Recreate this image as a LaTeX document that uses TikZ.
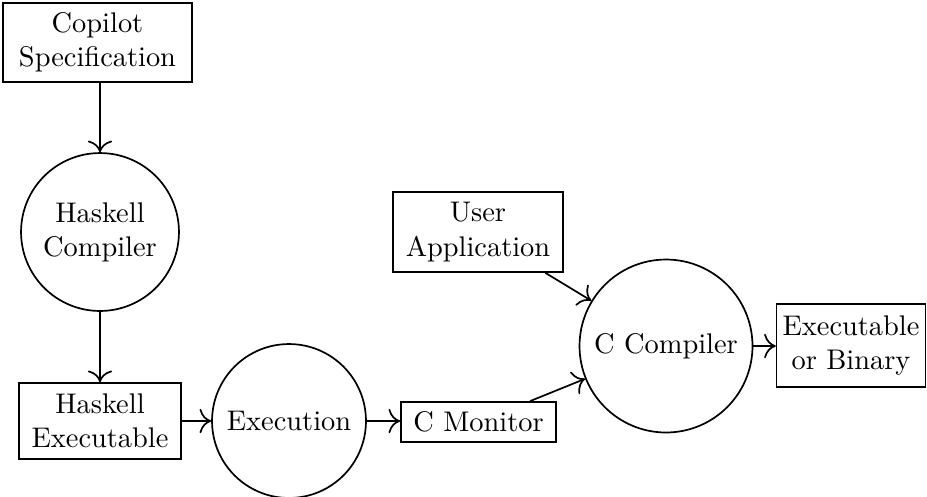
\documentclass[tikz,border=0pt]{standalone}
\usetikzlibrary{arrows.meta}
\tikzset{
  stage/.style={draw, line width=0.6pt, rectangle, align=center, inner sep=0pt},
  proc/.style={draw, line width=0.6pt, circle, align=center, inner sep=0pt},
  flow/.style={-{To[scale=1.4]}, line width=0.6pt}
}
\begin{document}
\begin{tikzpicture}[x=0.3521pt, y=-0.3521pt]
  \useasboundingbox (0,0) rectangle (927,496);

  \node[stage, minimum width=66.5pt, minimum height=27.8pt] (cop) at (97.5,42.5) {Copilot\\Specification};
  \node[proc, minimum size=55.6pt] (hc) at (100,232) {Haskell\\Compiler};
  \node[stage, minimum width=57pt, minimum height=26.8pt] (he) at (100,421) {Haskell\\Executable};
  \node[proc, minimum size=54.2pt] (ex) at (289,421) {Execution};
  \node[stage, minimum width=54.6pt, minimum height=14.1pt] (cm) at (478.5,422) {C Monitor};
  \node[stage, minimum width=59.9pt, minimum height=28.2pt] (ua) at (478,232) {User\\Application};
  \node[proc, minimum size=60.9pt] (cc) at (666,346) {C Compiler};
  \node[stage, minimum width=52.4pt, minimum height=29.2pt] (eb) at (851,345.5) {Executable\\or Binary};

  \draw[flow] (cop.south -| hc.north) -- (hc.north);
  \draw[flow] (hc.south) -- (hc.south |- he.north);
  \draw[flow] (he.east |- ex.west) -- (ex.west);
  \draw[flow] (ex.east) -- (cm.west |- ex.east);
  \draw[flow] (cm) -- (cc);
  \draw[flow] (ua) -- (cc);
  \draw[flow] (cc.east) -- (eb.west |- cc.east);
\end{tikzpicture}
\end{document}
